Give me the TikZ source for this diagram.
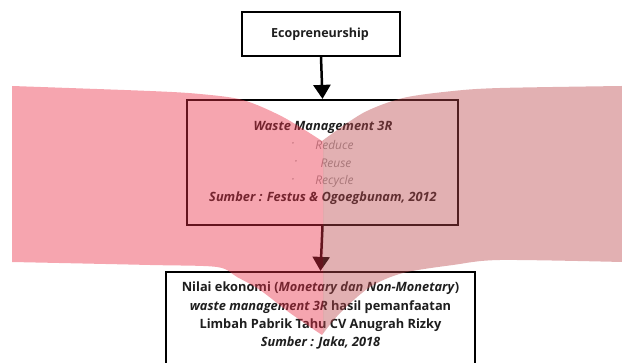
\documentclass[tikz,border=0pt]{standalone}
\usepackage{fontspec}
\setmainfont{Open Sans}
\usetikzlibrary{arrows.meta}
\definecolor{txt}{RGB}{30,30,30}
\definecolor{pinkL}{RGB}{233,47,70}
\definecolor{pinkR}{RGB}{188,72,77}
\tikzset{
  box/.style={draw=black, line width=2.2pt, fill=white, inner sep=0pt},
  conn/.style={line width=2.5pt, -{Triangle[width=17pt,length=14pt]}},
  lbl/.style={text=txt, inner sep=0pt},
  item/.style={text=gray!80, inner sep=0pt, font=\itshape\fontsize{12}{14}\selectfont},
}
\begin{document}
\begin{tikzpicture}[x=1pt,y=-1pt]
\useasboundingbox (0,0) rectangle (622,363);
% boxes
\node[box, minimum width=158pt, minimum height=44pt] (eco) at (321,34) {};
\node[box, minimum width=271pt, minimum height=125pt, fill=none] (mid) at (322.5,162.5) {};
\node[box, minimum width=309pt, minimum height=92pt] (res) at (320.5,318) {};
\draw[conn] (eco.south) -- (mid.north);
\draw[conn] (mid.south) -- (res.north);
% texts
\node[lbl, font=\bfseries\fontsize{12.5}{14}\selectfont] (t0) at (320,34) {Ecopreneurship};
\node[lbl, font=\bfseries\itshape\fontsize{12.8}{14}\selectfont] (t1) at (323,127) {Waste Management 3R};
\node[item] (b1) at (293,145) {·};
\node[item] (r1) at (334.5,145) {Reduce};
\node[item] (b2) at (296,163) {·};
\node[item] (r2) at (336,163) {Reuse};
\node[item] (b3) at (293,181) {·};
\node[item] (r3) at (334.5,181) {Recycle};
\node[lbl, font=\bfseries\itshape\fontsize{12.8}{14}\selectfont] (t2) at (323,198) {Sumber : Festus \& Ogoegbunam, 2012};
\node[lbl, font=\bfseries\fontsize{12.8}{14}\selectfont] (l1) at (320.5,288) {Nilai ekonomi (\textit{Monetary dan Non-Monetary})};
\node[lbl, font=\bfseries\fontsize{12.8}{14}\selectfont] (l2) at (320.5,307) {\textit{waste management 3R} hasil pemanfaatan};
\node[lbl, font=\bfseries\fontsize{12.8}{14}\selectfont] (l3) at (320.5,325) {Limbah Pabrik Tahu CV Anugrah Rizky};
\node[lbl, font=\bfseries\itshape\fontsize{12.8}{14}\selectfont] (l4) at (320.5,343) {Sumber : Jaka, 2018};
% translucent chevron overlay
\def\chev{plot[smooth] coordinates {(12,86) (150,91) (200,94) (243,100) (283,117) (322,141)}
  -- plot[smooth] coordinates {(322,141) (363,113) (403,98) (453,91) (500,88) (622,86)}
  -- (622,262)
  -- plot[smooth] coordinates {(622,262) (500,260) (453,265) (403,273) (370,287) (340,313) (322,335)}
  -- plot[smooth] coordinates {(322,335) (290,313) (260,290) (237,277) (217,267) (150,265) (12,262)}
  -- cycle}
\begin{scope}
  \clip (0,0) rectangle (323,363);
  \fill[pinkL, fill opacity=0.43] \chev;
\end{scope}
\begin{scope}
  \clip (323,0) rectangle (622,363);
  \fill[pinkR, fill opacity=0.43] \chev;
\end{scope}
\end{tikzpicture}
\end{document}
